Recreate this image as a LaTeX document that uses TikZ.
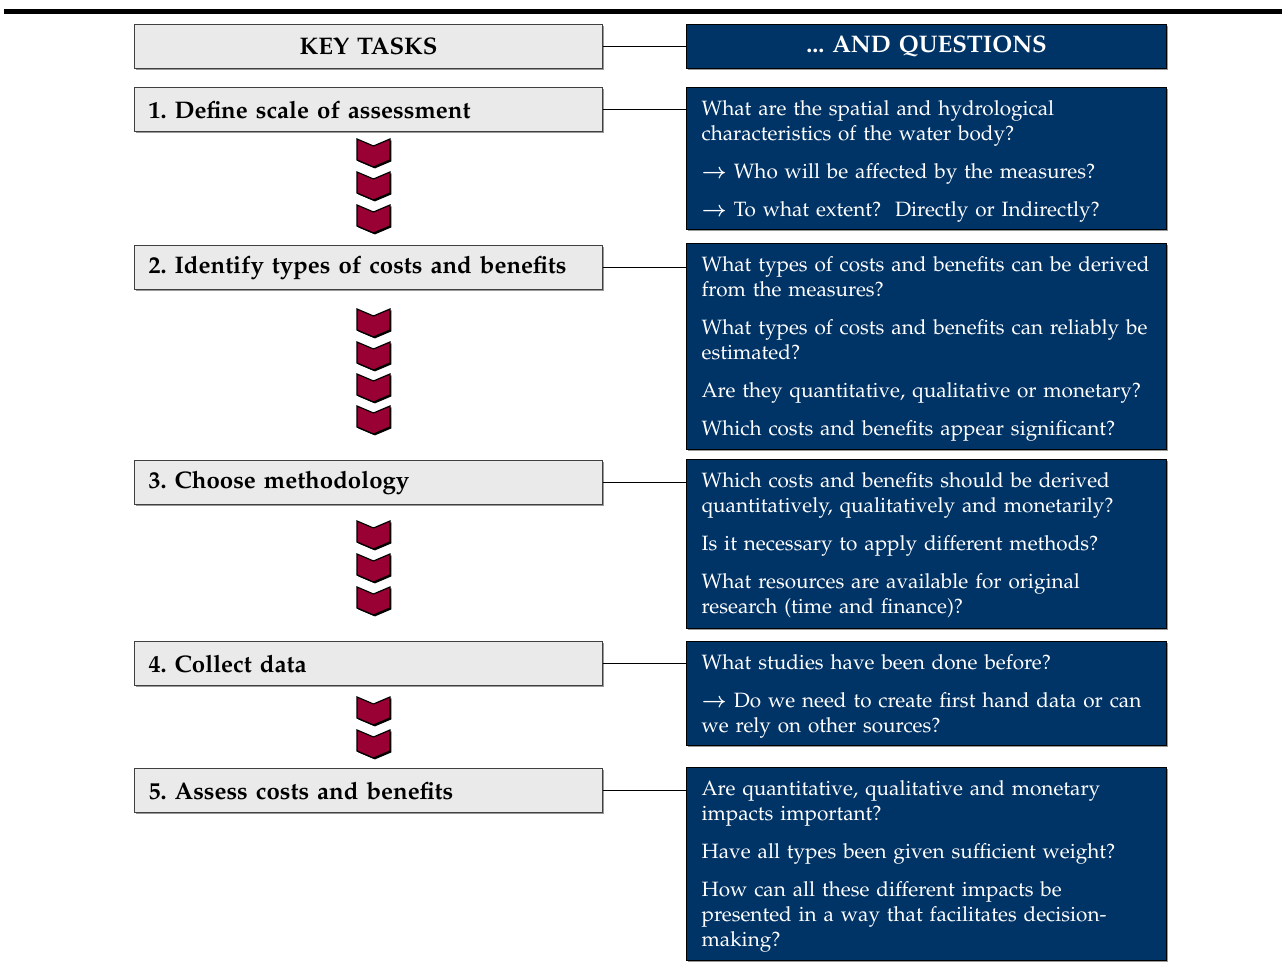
\documentclass[tikz,border=0pt]{standalone}
\usepackage[T1]{fontenc}
\usepackage{mathpazo}
\usepackage{tikz}
\usetikzlibrary{shadows}
\definecolor{navy}{RGB}{0,51,102}
\definecolor{lightgrey}{RGB}{234,234,234}
\definecolor{crimson}{RGB}{153,0,51}
\tikzset{
  every picture/.style={line join=miter},
  boxshadow/.style={drop shadow={shadow xshift=0.8pt,shadow yshift=-0.8pt,fill=black!40,opacity=1}},
  taskbox/.style={draw=black!75, fill=lightgrey, line width=0.6pt, boxshadow,
    anchor=north west, text width=220pt, inner xsep=7pt, minimum height=22pt,
    align=left, font=\fontsize{12}{13}\selectfont\bfseries\frenchspacing},
  questbox/.style={draw=black, fill=navy, text=white, line width=0.6pt, boxshadow,
    anchor=north west, text width=225pt, inner xsep=7.5pt, inner ysep=5pt,
    text height=9pt, align=left, font=\fontsize{10.35}{12.5}\selectfont\frenchspacing},
  headbox/.style={minimum height=22pt, text height=, text depth=, align=center,
    font=\fontsize{12}{13}\selectfont\bfseries\frenchspacing},
  chevron/.style={fill=crimson, draw=black, line width=0.6pt,
    drop shadow={shadow xshift=0.7pt,shadow yshift=-0.7pt,fill=black,opacity=1}},
  link/.style={draw=black, line width=0.6pt},
}
\newcommand{\qarrow}{{\boldmath$\rightarrow$}}

\begin{document}
\begin{tikzpicture}[x=0.5pt,y=-0.5pt]
\useasboundingbox (0,0) rectangle (1282,970);
\fill (4,9) rectangle (1282,14);
% headers
\node[taskbox,headbox] (keyhead) at (134,24) {KEY TASKS};
\node[questbox,headbox] (queshead) at (686,24) {... AND QUESTIONS};
\draw[link] (keyhead.east) -- (keyhead.east -| queshead.west);
% key tasks
\node[taskbox] (task1) at (134,87) {1. Define scale of assessment};
\node[taskbox] (task2) at (134,245) {2. Identify types of costs and benefits};
\node[taskbox] (task3) at (134,460) {3. Choose methodology};
\node[taskbox] (task4) at (134,641) {4. Collect data};
\node[taskbox] (task5) at (134,768) {5. Assess costs and benefits};
% questions
\node[questbox,text depth=52pt] (ques1) at (686,87) {What are the spatial and hydrological\\characteristics of the water body?\\[6.5pt]
\qarrow\ Who will be affected by the measures?\\[6.5pt]
\qarrow\ To what extent?\ \ Directly or Indirectly?};
\node[questbox,text depth=84pt] (ques2) at (686,243) {What types of costs and benefits can be derived\\from the measures?\\[6.5pt]
What types of costs and benefits can reliably be\\estimated?\\[6.5pt]
Are they quantitative, qualitative or monetary?\\[6.5pt]
Which costs and benefits appear significant?};
\node[questbox,text depth=65.5pt] (ques3) at (686,459) {Which costs and benefits should be derived\\quantitatively, qualitatively and monetarily?\\[6.5pt]
Is it necessary to apply different methods?\\[6.5pt]
What resources are available for original\\research (time and finance)?};
\node[questbox,text depth=33pt] (ques4) at (686,641) {What studies have been done before?\\[6.5pt]
\qarrow\ Do we need to create first hand data or can\\we rely on other sources?};
\node[questbox,text depth=77.5pt] (ques5) at (686,767) {Are quantitative, qualitative and monetary\\impacts important?\\[6.5pt]
Have all types been given sufficient weight?\\[6.5pt]
How can all these different impacts be\\presented in a way that facilitates decision-\\making?};
\foreach \i in {1,...,5}
  \draw[link] (task\i.east) -- (task\i.east -| ques\i.west);
% chevrons
\foreach \t in {139,172,205,309,342,374,406,521,554,587,697,730}
  \draw[chevron] (357,\t) -- (373.5,\t+7) -- (390,\t) -- (390,\t+21) -- (373.5,\t+28) -- (357,\t+21) -- cycle;
\end{tikzpicture}
\end{document}
